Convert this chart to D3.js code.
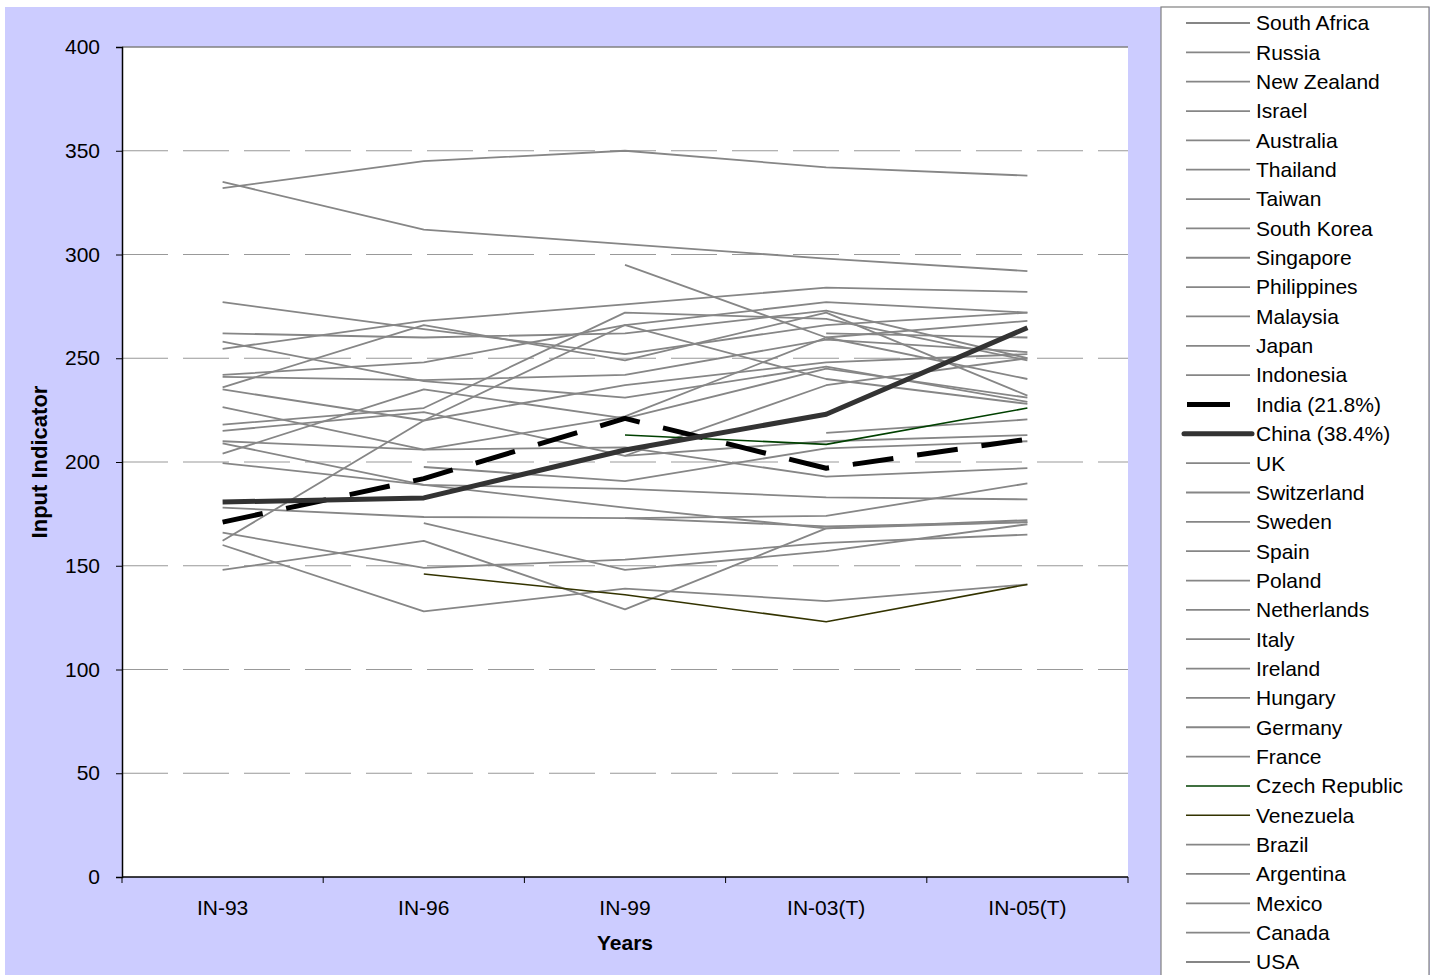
<!DOCTYPE html>
<html>
<head>
<meta charset="utf-8">
<script src="https://cdn.jsdelivr.net/npm/d3@7"></script>
<style>
  body { margin: 0; background: #fff; }
  text { font-family: "Liberation Sans", Arial, sans-serif; }
</style>
</head>
<body>
<script>
const W = 1430, H = 975

const years = ["IN-93", "IN-96", "IN-99", "IN-03(T)", "IN-05(T)"]
const yTicks = [0, 50, 100, 150, 200, 250, 300, 350, 400]

const countries = ["South Africa", "Russia", "New Zealand", "Israel", "Australia", "Thailand",
  "Taiwan", "South Korea", "Singapore", "Philippines", "Malaysia", "Japan", "Indonesia",
  "India (21.8%)", "China (38.4%)", "UK", "Switzerland", "Sweden", "Spain", "Poland",
  "Netherlands", "Italy", "Ireland", "Hungary", "Germany", "France", "Czech Republic",
  "Venezuela", "Brazil", "Argentina", "Mexico", "Canada", "USA"]

// one row per country, same order as above
const values = [
  [332, 345, 350, 342, 338],
  [null, null, 295, 260, 240],
  [335, 312, 305, 298, 292],
  [277, 264, 252, 266, 272],
  [262, 260, 262, 273, 250],
  [258, 239, 231, 246, 229],
  [254.5, 268, 276, 284, 282],
  [242, 248, 266, 277, 272],
  [241, 239.5, 242, 259, 253],
  [236, 266, 249, 272, 232],
  [235, 220, 237, 248, 252],
  [226.5, 206, 222, 260, 268],
  [218, 226, 272, 269, 249],
  [171, 192, 221, 197, 211],
  [180.7, 182.7, 205.8, 223, 264.7],
  [215, 224, 203, 237, 250],
  [210, 206, 207, 193, 197],
  [209, 189, 178, 168, 172],
  [204, 235, 221, 245, 231],
  [199.5, 189, 187, 183, 182],
  [178, 173.5, 173, 169, 171],
  [166, 149, 153, 161, 165],
  [162, 220, 266, 240, 228],
  [148, 162, 129, 168, 171],
  [160, 128, 139, 133, 141],
  [null, 197.6, 190.8, 206.6, 210],
  [null, null, 213, 208.5, 226],
  [null, 146, 136, 123, 141],
  [null, 170.6, 148, 157, 170],
  [null, null, 173, 174, 189.7],
  [null, null, null, 262, 260],
  [null, null, null, 214, 220.5],
  [null, null, 203, 210, 213]
]

const styleOf = name => {
  if (name.startsWith("India")) return {color: "#000", width: 5, dash: "41,24"}
  if (name.startsWith("China")) return {color: "#333333", width: 5, dash: null}
  if (name == "Czech Republic") return {color: "#004000", width: 1.6, dash: null}
  if (name == "Venezuela") return {color: "#333300", width: 1.6, dash: null}
  return {color: "#868686", width: 1.8, dash: null}
}

const svg = d3.select("body").append("svg")
  .attr("width", W).attr("height", H)

svg.append("rect").attr("x", 5).attr("y", 7).attr("width", W - 5).attr("height", H - 7)
  .attr("fill", "#ccccff")

const pLeft = 122, pRight = 1128, pTop = 47, pBottom = 877

svg.append("rect").attr("x", pLeft).attr("y", pTop)
  .attr("width", pRight - pLeft).attr("height", pBottom - pTop).attr("fill", "#fff")

const x = d3.scalePoint().domain(years).range([pLeft, pRight]).padding(0.5)
const xb = d3.scaleBand().domain(years).range([pLeft, pRight])
const y = d3.scaleLinear().domain([0, 400]).range([pBottom, pTop])

// gridlines
svg.append("g").selectAll("line")
  .data(yTicks.filter(d => d > 0 && d < 400))
  .enter().append("line")
  .attr("x1", pLeft).attr("x2", pRight)
  .attr("y1", d => y(d)).attr("y2", d => y(d))
  .attr("stroke", "#999").attr("stroke-width", 1.2)
  .attr("stroke-dasharray", "46,15")
svg.append("line").attr("x1", pLeft).attr("x2", pRight)
  .attr("y1", y(400)).attr("y2", y(400))
  .attr("stroke", "#808080").attr("stroke-width", 1.5)

// axes
const yAxis = d3.axisLeft(y).tickValues(yTicks).tickSize(6).tickPadding(16)
const gy = svg.append("g").attr("transform", `translate(${pLeft},0)`).call(yAxis)
gy.select(".domain").attr("stroke", "#000").attr("stroke-width", 1.5)
gy.selectAll(".tick line").attr("stroke", "#000")
gy.selectAll("text").attr("font-size", 21).attr("fill", "#000")
  .style("font-family", "Liberation Sans, Arial, sans-serif")

svg.append("line").attr("x1", pLeft).attr("x2", pRight)
  .attr("y1", pBottom).attr("y2", pBottom).attr("stroke", "#000").attr("stroke-width", 1.5)
const bounds = years.map(d => xb(d)).concat([pRight])
svg.append("g").selectAll("line").data(bounds).enter().append("line")
  .attr("x1", d => d).attr("x2", d => d)
  .attr("y1", pBottom).attr("y2", pBottom + 6).attr("stroke", "#000")
svg.append("g").selectAll("text").data(years).enter().append("text")
  .attr("x", d => x(d)).attr("y", 915)
  .attr("text-anchor", "middle").attr("font-size", 21).text(d => d)

svg.append("text").attr("x", (pLeft + pRight) / 2).attr("y", 950)
  .attr("text-anchor", "middle").attr("font-size", 21).attr("font-weight", "bold").text("Years")
svg.append("text").attr("transform", `translate(47,${(pTop + pBottom) / 2}) rotate(-90)`)
  .attr("text-anchor", "middle").attr("font-size", 22).attr("font-weight", "bold")
  .text("Input Indicator")

// series
const line = d3.line()
  .defined(d => d.v != null)
  .x(d => x(d.year))
  .y(d => y(d.v))

const series = countries.map((name, i) => ({
  name, pts: years.map((yr, j) => ({year: yr, v: values[i][j]}))
}))
const special = ["Czech Republic", "Venezuela", "India (21.8%)", "China (38.4%)"]
const drawOrder = series.filter(s => !special.includes(s.name))
  .concat(special.map(n => series.find(s => s.name == n)))

svg.append("g").selectAll("path").data(drawOrder).enter().append("path")
  .attr("d", d => line(d.pts))
  .attr("fill", "none")
  .attr("stroke", d => styleOf(d.name).color)
  .attr("stroke-width", d => styleOf(d.name).width)
  .attr("stroke-dasharray", d => styleOf(d.name).dash)
  .attr("stroke-linejoin", "round")

// legend
svg.append("rect").attr("x", 1161).attr("y", 7).attr("width", 268).attr("height", 975)
  .attr("fill", "#fff").attr("stroke", "#808080").attr("stroke-width", 1.2)

const ly = d3.scalePoint().domain(countries).range([23, 962])
const lg = svg.append("g").selectAll("g").data(countries).enter().append("g")
  .attr("transform", d => `translate(0,${ly(d)})`)
lg.append("line")
  .attr("x1", d => d.startsWith("India") ? 1187 : (d.startsWith("China") ? 1184 : 1186))
  .attr("x2", d => d.startsWith("India") ? 1230 : (d.startsWith("China") ? 1252 : 1250))
  .attr("stroke", d => styleOf(d).color)
  .attr("stroke-width", d => styleOf(d).width)
  .attr("stroke-linecap", d => d.startsWith("China") ? "round" : "butt")
lg.append("text").attr("x", 1256).attr("dy", "0.35em")
  .attr("font-size", 21).text(d => d)
</script>
</body>
</html>
